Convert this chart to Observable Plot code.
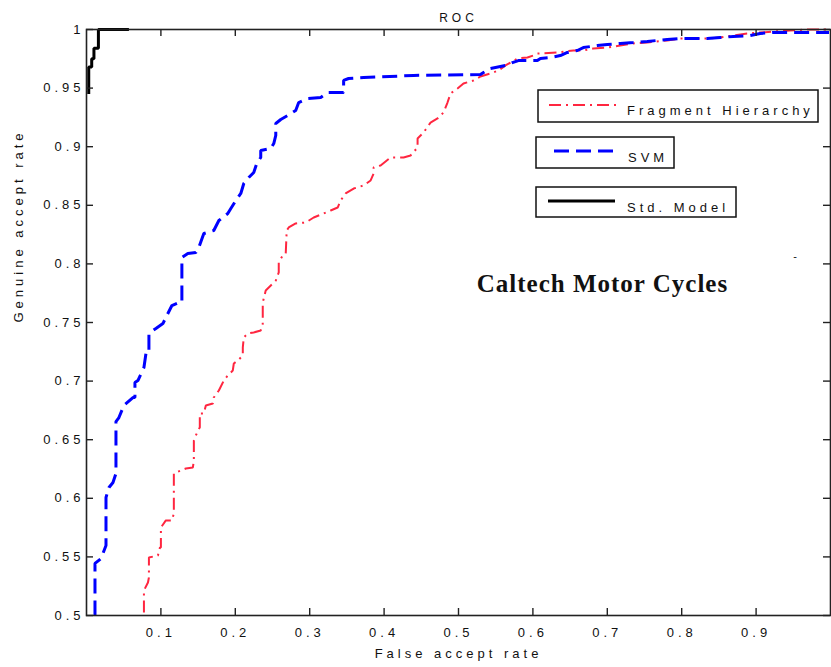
<!DOCTYPE html>
<html><head><meta charset="utf-8">
<script src="https://cdn.jsdelivr.net/npm/d3@7"></script>
<script src="https://cdn.jsdelivr.net/npm/@observablehq/plot@0.6"></script>
<style>
body{margin:0;background:#fff}
#chart svg{display:block}
#chart svg text{letter-spacing:4px}
</style>
</head><body><div id="chart"></div>
<script>
const title = "ROC";
const xLabel = "False accept rate";
const yLabel = "Genuine accept rate";
const annotation = "Caltech Motor Cycles";
const seriesNames = ["Fragment Hierarchy", "SVM", "Std. Model"];
const seriesColors = ["#ff2640", "#0000ff", "#000000"];

const xTicks = [0.1, 0.2, 0.3, 0.4, 0.5, 0.6, 0.7, 0.8, 0.9];
const xTickLabels = ["0.1", "0.2", "0.3", "0.4", "0.5", "0.6", "0.7", "0.8", "0.9"];
const yTicks = [0.5, 0.55, 0.6, 0.65, 0.7, 0.75, 0.8, 0.85, 0.9, 0.95, 1];
const yTickLabels = ["0.5", "0.55", "0.6", "0.65", "0.7", "0.75", "0.8", "0.85", "0.9", "0.95", "1"];

// Fragment Hierarchy (red dash-dot)
const fhX = [0.0772,0.0772,0.0826,0.0839,0.0839,0.0960,0.0987,0.1000,0.1000,0.1067,0.1148,0.1174,0.1174,0.1268,0.1336,0.1430,0.1443,0.1443,0.1497,0.1523,0.1523,0.1577,0.1604,0.1698,0.1711,0.1779,0.1846,0.1899,0.1966,0.1980,0.2034,0.2101,0.2101,0.2114,0.2168,0.2248,0.2342,0.2369,0.2369,0.2409,0.2477,0.2544,0.2584,0.2584,0.2638,0.2678,0.2691,0.2718,0.2812,0.2946,0.3054,0.3188,0.3282,0.3376,0.3416,0.3483,0.3591,0.3725,0.3819,0.3859,0.3859,0.3953,0.4087,0.4262,0.4356,0.4450,0.4450,0.4530,0.4624,0.4718,0.4799,0.4852,0.4893,0.4987,0.5067,0.5201,0.5295,0.5430,0.5537,0.5631,0.5698,0.5792,0.5926,0.6007,0.6060,0.6329,0.6544,0.6678,0.6812,0.7000,0.7174,0.7349,0.7537,0.7805,0.7980,0.8342,0.8517,0.8691,0.8879,0.9054,0.9228,0.9456,0.9685,0.9980];
const fhY = [0.5026,0.5213,0.5282,0.5324,0.5495,0.5512,0.5580,0.5580,0.5751,0.5811,0.5811,0.5870,0.6212,0.6237,0.6254,0.6263,0.6323,0.6493,0.6578,0.6604,0.6724,0.6724,0.6792,0.6809,0.6860,0.6920,0.7005,0.7048,0.7090,0.7150,0.7176,0.7218,0.7287,0.7372,0.7406,0.7415,0.7432,0.7491,0.7671,0.7773,0.7816,0.7858,0.7927,0.8012,0.8072,0.8089,0.8285,0.8311,0.8345,0.8353,0.8396,0.8430,0.8456,0.8481,0.8541,0.8601,0.8643,0.8669,0.8712,0.8771,0.8823,0.8840,0.8908,0.8908,0.8925,0.8993,0.9070,0.9121,0.9206,0.9241,0.9292,0.9377,0.9454,0.9497,0.9539,0.9565,0.9599,0.9625,0.9650,0.9693,0.9718,0.9753,0.9761,0.9778,0.9795,0.9804,0.9821,0.9821,0.9838,0.9846,0.9863,0.9881,0.9889,0.9906,0.9923,0.9923,0.9932,0.9949,0.9966,0.9974,0.9983,0.9991,1.0000,1.0000];

// SVM (blue dashed)
const svmX = [0.0114,0.0114,0.0195,0.0221,0.0262,0.0262,0.0302,0.0356,0.0396,0.0396,0.0436,0.0503,0.0624,0.0651,0.0651,0.0691,0.0772,0.0799,0.0839,0.0839,0.0893,0.0933,0.1027,0.1067,0.1148,0.1242,0.1282,0.1282,0.1362,0.1470,0.1510,0.1577,0.1711,0.1779,0.1899,0.1940,0.2007,0.2074,0.2114,0.2181,0.2248,0.2289,0.2342,0.2342,0.2477,0.2517,0.2544,0.2544,0.2611,0.2705,0.2812,0.2852,0.2973,0.3148,0.3242,0.3456,0.3456,0.3523,0.3725,0.4396,0.5295,0.5336,0.5430,0.5497,0.5631,0.5725,0.5805,0.6060,0.6101,0.6235,0.6369,0.6463,0.6597,0.6678,0.6866,0.7000,0.7174,0.7349,0.7537,0.7805,0.7980,0.8342,0.8517,0.8691,0.8919,0.9054,0.9228,0.9980];
const svmY = [0.5000,0.5444,0.5486,0.5529,0.5597,0.6007,0.6092,0.6135,0.6212,0.6655,0.6689,0.6792,0.6860,0.6860,0.6988,0.7005,0.7116,0.7236,0.7236,0.7406,0.7432,0.7449,0.7491,0.7543,0.7645,0.7671,0.7671,0.8055,0.8089,0.8097,0.8140,0.8259,0.8285,0.8370,0.8430,0.8473,0.8541,0.8601,0.8686,0.8737,0.8780,0.8857,0.8908,0.8968,0.8985,0.9027,0.9096,0.9198,0.9232,0.9266,0.9309,0.9377,0.9411,0.9420,0.9462,0.9462,0.9565,0.9582,0.9590,0.9608,0.9616,0.9633,0.9667,0.9676,0.9693,0.9718,0.9735,0.9735,0.9753,0.9761,0.9778,0.9804,0.9821,0.9846,0.9863,0.9872,0.9881,0.9889,0.9898,0.9915,0.9923,0.9923,0.9932,0.9940,0.9949,0.9966,0.9974,0.9974];

// Std. Model (black solid)
const stdX = [0.003,0.003,0.007,0.007,0.010,0.010,0.016,0.016,0.057];
const stdY = [0.945,0.968,0.968,0.975,0.975,0.984,0.984,1.000,1.000];

const series = [
  {name: seriesNames[0], xs: fhX, ys: fhY, color: seriesColors[0], width: 2, dash: "12,5,2,5"},
  {name: seriesNames[1], xs: svmX, ys: svmY, color: seriesColors[1], width: 3, dash: "15,7"},
  {name: seriesNames[2], xs: stdX, ys: stdY, color: seriesColors[2], width: 3, dash: null}
];

const W = 831, H = 667, mL = 86, mR = 1, mT = 29, mB = 52;
const frameW = W - mL - mR, frameH = H - mT - mB, tickLen = 7;

const lineMarks = series.map(s => Plot.line(s.xs.map((x, i) => ({x, y: s.ys[i]})), {
  x: "x", y: "y", stroke: s.color, strokeWidth: s.width,
  strokeDasharray: s.dash || undefined, strokeLinejoin: "miter", strokeLinecap: "butt"
}));

const plot = Plot.plot({
  width: W, height: H,
  marginLeft: mL, marginRight: mR, marginTop: mT, marginBottom: mB,
  x: {domain: [0, 1]},
  y: {domain: [0.5, 1]},
  style: {fontFamily: "'Liberation Sans', Arial, sans-serif", fontSize: "13px", background: "white", color: "#111"},
  marks: [
    ...lineMarks,
    Plot.frame({stroke: "#222", strokeWidth: 1.6}),
    Plot.tickX(xTicks, {x: d => d, insetTop: frameH - tickLen, stroke: "#222", strokeWidth: 1.4}),
    Plot.tickX(xTicks, {x: d => d, insetBottom: frameH - tickLen, stroke: "#222", strokeWidth: 1.4}),
    Plot.tickY(yTicks, {y: d => d, insetRight: frameW - tickLen, stroke: "#222", strokeWidth: 1.4}),
    Plot.tickY(yTicks, {y: d => d, insetLeft: frameW - tickLen, stroke: "#222", strokeWidth: 1.4}),
    Plot.axisX(xTicks, {tickSize: 0, tickPadding: 12, tickFormat: d => xTickLabels[xTicks.indexOf(d)], label: null, fontSize: 13}),
    Plot.axisY(yTicks, {tickSize: 0, tickPadding: 2, tickFormat: d => yTickLabels[yTicks.indexOf(d)], label: null, fontSize: 13}),
    Plot.text([title], {text: d => d, frameAnchor: "top", dy: -16, fontSize: 12}),
    Plot.text([xLabel], {text: d => d, frameAnchor: "bottom", dy: 42, fontSize: 13}),
    Plot.text([yLabel], {text: d => d, frameAnchor: "left", dx: -68, rotate: -90, fontSize: 13}),
    Plot.text([annotation], {text: d => d, x: 0.6935, y: 0.783, fontSize: 25, fontWeight: "bold", fontFamily: "'Liberation Serif', 'Times New Roman', serif", fill: "#111"}),
    Plot.text(["-"], {text: d => d, x: 0.955, y: 0.806, fontSize: 11})
  ]
});

document.getElementById("chart").appendChild(plot);

// Legend: three separate boxes, as in the reference
const svg = d3.select(plot);
const legendBoxes = [
  {x: 538, y: 90, w: 280, h: 32, lineX1: 549, lineX2: 617, lineY: 105, textX: 627, textY: 115},
  {x: 536, y: 137, w: 138, h: 31, lineX1: 554, lineX2: 615, lineY: 151, textX: 628, textY: 162},
  {x: 536, y: 187, w: 200, h: 30, lineX1: 548, lineX2: 615, lineY: 201, textX: 627, textY: 212}
];
const lg = svg.append("g").attr("aria-label", "legend");
series.forEach((s, i) => {
  const b = legendBoxes[i];
  lg.append("rect").attr("x", b.x).attr("y", b.y).attr("width", b.w).attr("height", b.h)
    .attr("fill", "white").attr("stroke", "#111").attr("stroke-width", 1.5);
  lg.append("line").attr("x1", b.lineX1).attr("x2", b.lineX2).attr("y1", b.lineY).attr("y2", b.lineY)
    .attr("stroke", s.color).attr("stroke-width", s.width).attr("stroke-dasharray", s.dash);
  lg.append("text").attr("x", b.textX).attr("y", b.textY).attr("font-size", 13)
    .attr("text-anchor", "start").attr("fill", "#111").text(s.name);
});
svg.selectAll("text").filter(function() { return this.textContent === annotation; })
  .style("letter-spacing", "1px");
</script>
</body></html>
